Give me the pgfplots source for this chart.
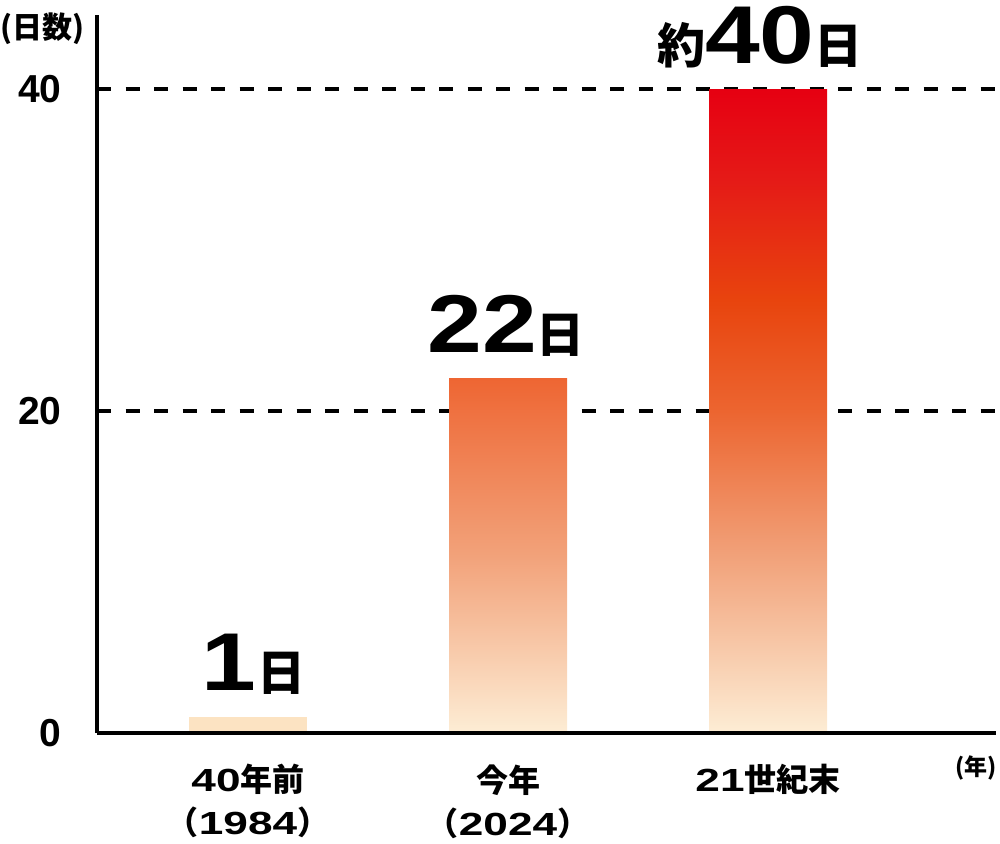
\documentclass[border=0pt]{standalone}
\usepackage{pgfplots}
\pgfplotsset{compat=1.18}
\usepackage{fontspec}
\setmainfont{Liberation Sans}
\newfontfamily\cjk{Noto Sans CJK JP}
\newfontfamily\widefont{Liberation Sans}[FakeStretch=1.2]
\newfontfamily\labfont{Liberation Sans}[FakeStretch=1.38]
\newcommand\kj[1]{{\cjk\bfseries #1}}
\newcommand\dg[1]{{\labfont\bfseries #1}}

\definecolor{barone}{HTML}{FCE3C2}
\definecolor{tA}{HTML}{FDEDD5}
\definecolor{tB}{HTML}{F1A078}
\definecolor{tC}{HTML}{EC6530}
\definecolor{tD}{HTML}{E8440E}
\definecolor{tE}{HTML}{E51A17}
\definecolor{tF}{HTML}{E60012}
\definecolor{sA}{HTML}{FDEDD5}
\definecolor{sB}{HTML}{F2A27A}
\definecolor{sC}{HTML}{EE6633}
\pgfdeclareverticalshading{barthree}{100bp}{color(0bp)=(tA); color(25bp)=(tA); color(39bp)=(tB); color(50bp)=(tC); color(58.6bp)=(tD); color(68bp)=(tE); color(75bp)=(tF); color(100bp)=(tF)}
\pgfdeclareverticalshading{bartwo}{100bp}{color(0bp)=(sA); color(25bp)=(sA); color(50bp)=(sB); color(75bp)=(sC); color(100bp)=(sC)}

\begin{document}
\begin{tikzpicture}
\useasboundingbox (-48.5pt,-55pt) rectangle (451.5pt,366.5pt);
\begin{axis}[
  width=449.5pt, height=359pt, scale only axis,
  xmin=-0.581, xmax=2.877, ymin=0, ymax=44.6,
  axis x line=bottom, axis y line=left,
  axis line style={line width=2pt, -},
  x axis line style={-}, y axis line style={-},
  major tick length=0pt, tick style={draw=none},
  ytick={0,20,40},
  /pgf/number format/assume math mode=true,
  yticklabel style={anchor=east, inner sep=0pt, xshift=-17.5pt, font=\fontsize{19.5pt}{20pt}\selectfont\bfseries},
  xtick={0,1,2},
  xticklabels={
    {\dg{40}\kj{年前}\\\kj{（}\dg{1984}\kj{）}},
    {\kj{今年}\\\kj{（}\dg{2024}\kj{）}},
    {\dg{21}\kj{世紀末}}
  },
  xticklabel style={anchor=north, inner sep=0pt, yshift=-15.5pt, align=center, font=\fontsize{16pt}{21.5pt}\selectfont\bfseries},
  ymajorgrids,
  grid style={black, line width=2pt, dash pattern=on 7pt off 7.25pt},
  clip=false,
]
\addplot[ybar, bar width=59pt, bar shift=0pt, draw=none, fill=barone] coordinates {(0,1)};
\addplot[ybar, bar width=59pt, bar shift=0pt, draw=none, shading=bartwo] coordinates {(1,22)};
\addplot[ybar, bar width=59pt, bar shift=0pt, draw=none, shading=barthree] coordinates {(2,40)};
\draw[line width=2pt] (axis cs:-0.581,0) -- (axis cs:2.877,0);

\node[anchor=base, inner sep=0pt, yshift=13pt, xshift=2.75pt] at (axis cs:0,1)
  {{\fontsize{41pt}{41pt}\selectfont\widefont\bfseries 1}\kern1pt{\fontsize{24pt}{24pt}\selectfont\kj{日}}};
\node[anchor=base, inner sep=0pt, yshift=13pt, xshift=-1pt] at (axis cs:1,22)
  {{\fontsize{41pt}{41pt}\selectfont\widefont\bfseries 22}{\fontsize{24pt}{24pt}\selectfont\kj{日}}};
\node[anchor=base, inner sep=0pt, yshift=13pt, xshift=-4pt] at (axis cs:2,40)
  {{\fontsize{24pt}{24pt}\selectfont\kj{約}}{\fontsize{41pt}{41pt}\selectfont\widefont\bfseries 40}{\fontsize{24pt}{24pt}\selectfont\kj{日}}};
\end{axis}
\node[anchor=west, inner sep=0pt] at (-48.5pt,352pt) {\fontsize{15pt}{15pt}\selectfont\kj{(日数)}};
\node[inner sep=0pt] at (439.5pt,-17.5pt) {\fontsize{11.5pt}{12pt}\selectfont\kj{(年)}};
\end{tikzpicture}
\end{document}
